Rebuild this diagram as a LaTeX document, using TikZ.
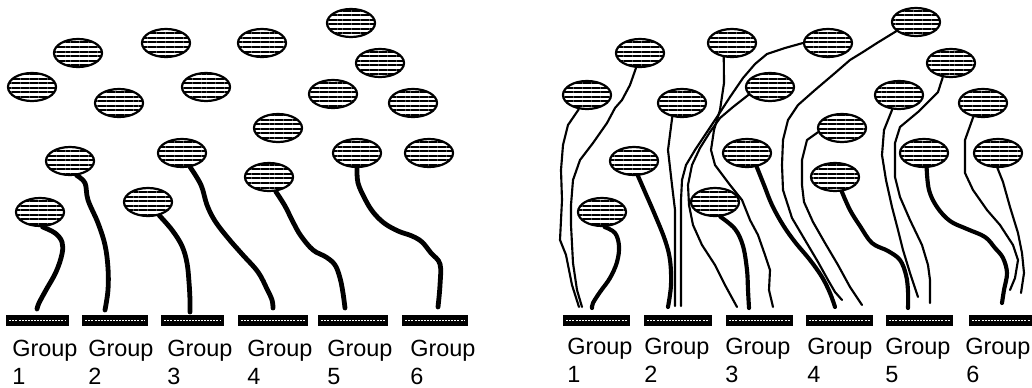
\documentclass[tikz,border=0pt]{standalone}
\usepackage{fontspec}
\setmainfont{Liberation Sans}
\usetikzlibrary{shapes.geometric,patterns.meta}
\pgfdeclarelayer{background}
\pgfsetlayers{background,main}

\tikzset{
  blob/.style={ellipse, draw, line width=1.65pt, minimum width=36pt, minimum height=21pt,
    inner sep=0pt, preaction={fill=white},
    pattern={Lines[angle=0,distance=3.4pt,line width=1.5pt]}},
  bar/.style={rectangle, fill=black, minimum width={0.75pt*#1}, minimum height=8.25pt, inner sep=0pt,
    path picture={\draw[white, line width=0.6pt, dash pattern=on 1.5pt off 0.8pt]
      ([xshift=2.5pt]path picture bounding box.west) -- ([xshift=-2.5pt]path picture bounding box.east);}},
  stalk/.style={line width=3.6pt, line cap=round, line join=round},
  rstalk/.style={line width=3.1pt, line cap=round, line join=round},
  fine/.style={line width=1.6pt, line cap=round, line join=round},
  lbl/.style={anchor=base west, inner sep=0pt, font=\fontsize{17.6pt}{21pt}\selectfont},
}

\begin{document}
\begin{tikzpicture}[x=0.75pt, y=-0.75pt]
\useasboundingbox (0,0) rectangle (1032,387);

% ---------------- left panel: heads ----------------
\node[blob] (L1)  at (78,53)   {};
\node[blob] (L2)  at (166,43)  {};
\node[blob] (L3)  at (262,43)  {};
\node[blob] (L4)  at (351,23)  {};
\node[blob] (L5)  at (32,87)   {};
\node[blob] (L6)  at (119,103) {};
\node[blob] (L7)  at (206,87)  {};
\node[blob] (L8)  at (380,63)  {};
\node[blob] (L9)  at (333,94)  {};
\node[blob] (L10) at (413,103) {};
\node[blob] (L11) at (278,128) {};
\node[blob] (L12) at (70,161)  {};
\node[blob] (L13) at (182,153) {};
\node[blob] (L14) at (357,153) {};
\node[blob] (L15) at (429,153) {};
\node[blob] (L16) at (269,177) {};
\node[blob] (L17) at (40,212)  {};
\node[blob] (L18) at (148,202) {};

% left panel: group bars and labels
\node[bar=63] (LB1) at (37.5,320.5) {};
\node[bar=66] (LB2) at (115,320.5)  {};
\node[bar=63] (LB3) at (192.5,320.5) {};
\node[bar=70] (LB4) at (273,320.5)  {};
\node[bar=70] (LB5) at (353,320.5)  {};
\node[bar=66] (LB6) at (435,320.5)  {};

\node[lbl] (LG1) at (12,356)  {Group};  \node[lbl] (LN1) at (12,384)  {1};
\node[lbl] (LG2) at (88,356)  {Group};  \node[lbl] (LN2) at (88,384)  {2};
\node[lbl] (LG3) at (167,356) {Group};  \node[lbl] (LN3) at (167,384) {3};
\node[lbl] (LG4) at (247,356) {Group};  \node[lbl] (LN4) at (247,384) {4};
\node[lbl] (LG5) at (327,356) {Group};  \node[lbl] (LN5) at (327,384) {5};
\node[lbl] (LG6) at (410,356) {Group};  \node[lbl] (LN6) at (410,384) {6};

% ---------------- right panel: heads ----------------
\node[blob] (R1)  at (640,53)  {};
\node[blob] (R2)  at (732,43)  {};
\node[blob] (R3)  at (828,43)  {};
\node[blob] (R4)  at (916,22)  {};
\node[blob] (R5)  at (587,95)  {};
\node[blob] (R6)  at (682,103) {};
\node[blob] (R7)  at (770,87)  {};
\node[blob] (R8)  at (951,63)  {};
\node[blob] (R9)  at (899,95)  {};
\node[blob] (R10) at (983,103) {};
\node[blob] (R11) at (842,128) {};
\node[blob] (R12) at (634,161) {};
\node[blob] (R13) at (747,153) {};
\node[blob] (R14) at (924,153) {};
\node[blob] (R15) at (998,153) {};
\node[blob] (R16) at (835,177) {};
\node[blob] (R17) at (602,212) {};
\node[blob] (R18) at (715,202) {};

% right panel: group bars and labels
\node[bar=67] (RB1) at (596.5,320.5) {};
\node[bar=68] (RB2) at (678,320.5)   {};
\node[bar=67] (RB3) at (759.5,320.5) {};
\node[bar=67] (RB4) at (839.5,320.5) {};
\node[bar=67] (RB5) at (919.5,320.5) {};
\node[bar=64] (RB6) at (1001,320.5)  {};

\node[lbl] (RG1) at (567,354) {Group};  \node[lbl] (RN1) at (567,382) {1};
\node[lbl] (RG2) at (644,354) {Group};  \node[lbl] (RN2) at (644,382) {2};
\node[lbl] (RG3) at (725,354) {Group};  \node[lbl] (RN3) at (725,382) {3};
\node[lbl] (RG4) at (807,354) {Group};  \node[lbl] (RN4) at (807,382) {4};
\node[lbl] (RG5) at (885,354) {Group};  \node[lbl] (RN5) at (885,382) {5};
\node[lbl] (RG6) at (965,354) {Group};  \node[lbl] (RN6) at (966,382) {6};

% free ends of the stalks, just above the bars
\coordinate (le1) at (37,309);   \coordinate (le2) at (105,310);
\coordinate (le3) at (190,312);  \coordinate (le4) at (273,308);
\coordinate (le5) at (345,308);  \coordinate (le6) at (438,307);
\coordinate (re1) at (592,308);  \coordinate (re2) at (668,307);
\coordinate (re3) at (749,308);  \coordinate (re4) at (835,307);
\coordinate (re5) at (908,308);  \coordinate (re6) at (1002,303);
\coordinate (te1) at (579,307);  \coordinate (te2) at (582,307);
\coordinate (te3) at (675,306);  \coordinate (te4) at (681,306);
\coordinate (te5) at (737,307);  \coordinate (te6) at (773,307);
\coordinate (te7) at (842,300);  \coordinate (te8) at (862,305);
\coordinate (te9) at (918,297);  \coordinate (te10) at (930,303);
\coordinate (te11) at (1010,290); \coordinate (te12) at (1021,293);

\begin{pgfonlayer}{background}
% left panel stalks
\draw[stalk] plot[smooth, tension=0.6] coordinates {(L17.280) (55,233) (62,242) (62,254) (56,272) (46,290) (39,303) (le1)};
\draw[stalk] plot[smooth, tension=0.6] coordinates {(L12.295) (85,183) (88,200) (98,223) (105,245) (108,268) (108,290) (le2)};
\draw[stalk] plot[smooth, tension=0.6] coordinates {(L18.310) (172,230) (182,246) (187,263) (189,282) (190,300) (le3)};
\draw[stalk] plot[smooth, tension=0.6] coordinates {(L13.300) (201,185) (207,205) (215,221) (228,238) (242,254) (258,272) (267,289) (272,300) (le4)};
\draw[stalk] plot[smooth, tension=0.6] coordinates {(L16.295) (285,206) (293,222) (301,236) (313,250) (326,257) (335,265) (340,278) (343,293) (le5)};
\draw[stalk] plot[smooth, tension=0.6] coordinates {(L14.270) (358,183) (365,199) (373,212) (384,223) (398,231) (412,236) (422,242) (431,253) (440,264) (440,285) (le6)};

% right panel stalks
\draw[rstalk] plot[smooth, tension=0.6] coordinates {(R17.280) (615,233) (619,246) (617,262) (610,278) (600,292) (593,303) (re1)};
\draw[rstalk] plot[smooth, tension=0.6] coordinates {(R12.285) (645,192) (655,215) (665,240) (670,260) (671,285) (re2)};
\draw[rstalk] plot[smooth, tension=0.6] coordinates {(R18.290) (735,229) (743,246) (747,270) (748,290) (re3)};
\draw[rstalk] plot[smooth, tension=0.6] coordinates {(R13.305) (764,185) (772,205) (783,225) (795,242) (810,260) (822,277) (830,293) (re4)};
\draw[rstalk] plot[smooth, tension=0.6] coordinates {(R16.295) (850,210) (860,226) (872,243) (888,251) (900,260) (906,275) (908,291) (re5)};
\draw[rstalk] plot[smooth, tension=0.6] coordinates {(R14.280) (929,190) (937,207) (950,221) (967,229) (985,237) (995,248) (1003,258) (1007,273) (1004,290) (re6)};

% right panel: long roots reaching down from the upper heads
\draw[fine] (R5.240) -- (568,125) -- (563,145) -- (561,170) -- (562,200) -- (560,240) -- (566,255) -- (572,285) -- (te1);
\draw[fine] (R1.255) -- (630,85) -- (622,100) -- (615,108) -- (607,123) -- (593,143) -- (580,160) -- (573,180) -- (571,205) -- (571,225) -- (573,263) -- (577,290) -- (te2);
\draw[fine] (R6.235) -- (668,150) -- (672,185) -- (675,210) -- (te3);
\draw[fine] (R3.180) -- (785,48) -- (767,54) -- (755,64) -- (743,78) -- (730,97) -- (717,117) -- (705,135) -- (695,150) -- (686,165) -- (682,180) -- (681,200) -- (te4);
\draw[fine] (R7.200) -- (733,107) -- (720,118) -- (710,132) -- (700,148) -- (692,165) -- (688,185) -- (689,205) -- (693,225) -- (702,245) -- (715,265) -- (725,285) -- (te5);
\draw[fine] (R2.240) -- (724,83) -- (720,110) -- (714,130) -- (711,150) -- (715,165) -- (730,185) -- (742,200) -- (750,220) -- (758,235) -- (765,255) -- (770,270) -- (769,290) -- (te6);
\draw[fine] (R4.205) -- (877,43) -- (863,52) -- (850,60) -- (835,73) -- (815,90) -- (798,105) -- (788,120) -- (783,140) -- (782,165) -- (783,190) -- (792,218) -- (805,240) -- (818,262) -- (828,280) -- (835,292) -- (te7);
\draw[fine] (R11.190) -- (807,140) -- (802,160) -- (802,185) -- (804,202) -- (813,222) -- (825,243) -- (838,265) -- (850,287) -- (te8);
\draw[fine] (R9.245) -- (884,130) -- (882,155) -- (886,180) -- (892,207) -- (898,230) -- (903,250) -- (910,273) -- (te9);
\draw[fine] (R8.240) -- (938,92) -- (918,112) -- (900,127) -- (895,143) -- (895,177) -- (900,197) -- (910,220) -- (922,245) -- (928,265) -- (930,280) -- (te10);
\draw[fine] (R10.235) -- (965,140) -- (965,173) -- (973,190) -- (987,210) -- (1000,225) -- (1013,245) -- (1018,260) -- (1015,278) -- (te11);
\draw[fine] (R15.268) -- (1003,182) -- (1010,207) -- (1018,233) -- (1022,253) -- (1024,273) -- (te12);
\end{pgfonlayer}
\end{tikzpicture}
\end{document}
